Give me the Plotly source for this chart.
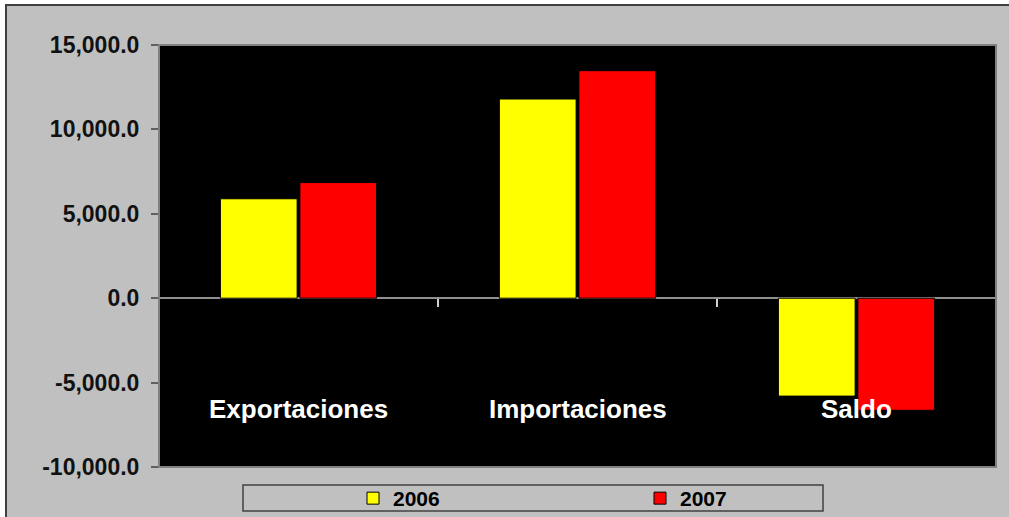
import plotly.graph_objects as go

categories = ["Exportaciones", "Importaciones", "Saldo"]
series_names = ["2006", "2007"]
values_2006 = [5890, 11800, -5800]
values_2007 = [6850, 13480, -6640]
y_ticks = [-10000, -5000, 0, 5000, 10000, 15000]

W, H = 1009, 517
L, R, T, B = 159, 13, 45, 50
pw = W - L - R
ph = H - T - B

def px_x(p):
    return (p - L) / pw

def px_y(p):
    return (H - B - p) / ph

font_family = "Liberation Sans, Arial, sans-serif"

fig = go.Figure()
fig.add_trace(go.Bar(x=categories, y=values_2006, name="<b>%s</b>" % series_names[0],
                     marker=dict(color="#FFFF00", line=dict(color="#000000", width=1))))
fig.add_trace(go.Bar(x=categories, y=values_2007, name="<b>%s</b>" % series_names[1],
                     marker=dict(color="#FF0000", line=dict(color="#000000", width=1))))

shapes = [
    # outer chart area (gray) with dark border
    dict(type="rect", xref="paper", yref="paper",
         x0=px_x(6), x1=px_x(1030), y0=px_y(540), y1=px_y(5),
         fillcolor="#C0C0C0", line=dict(color="#404040", width=2), layer="below"),
    # plot area background
    dict(type="rect", xref="paper", yref="paper", x0=0, x1=1, y0=0, y1=1,
         fillcolor="#000000", line=dict(width=0), layer="below"),
    # plot area border
    dict(type="rect", xref="paper", yref="paper", x0=0, x1=1, y0=0, y1=1,
         line=dict(color="#808080", width=2), layer="above"),
    # legend box
    dict(type="rect", xref="paper", yref="paper",
         x0=px_x(243), x1=px_x(823), y0=px_y(511), y1=px_y(485),
         fillcolor="rgba(0,0,0,0)", line=dict(color="#404040", width=1.5), layer="above"),
]

annotations = [
    dict(x=c, y=-6550, xref="x", yref="y", text="<b>%s</b>" % c, showarrow=False,
         font=dict(family=font_family, size=26, color="#FFFFFF"), yanchor="middle")
    for c in categories
]

fig.update_layout(
    width=W, height=H,
    margin=dict(l=L, r=R, t=T, b=B, autoexpand=False),
    paper_bgcolor="#FFFFFF",
    plot_bgcolor="rgba(0,0,0,0)",
    barmode="group",
    bargap=0.43,
    bargroupgap=0.035,
    shapes=shapes,
    annotations=annotations,
    showlegend=True,
    legend=dict(orientation="h", xref="container", yref="container",
                x=353 / W, y=(H - 478) / H, xanchor="left", yanchor="top",
                bgcolor="rgba(0,0,0,0)", borderwidth=0,
                font=dict(family=font_family, size=21, color="#000000"),
                entrywidth=242, entrywidthmode="pixels",
                traceorder="normal"),
    font=dict(family=font_family, color="#000000"),
)

fig.update_xaxes(
    type="category",
    anchor="free", position=0.4,
    showticklabels=False,
    showline=False, showgrid=False, zeroline=False,
    ticks="outside", tickson="boundaries", ticklen=8, tickwidth=1.5, tickcolor="#D0D0D0",
)
fig.update_yaxes(
    range=[-10000, 15000],
    tickmode="array", tickvals=y_ticks,
    ticktext=["<b>%s</b>" % f"{v:,.1f}" for v in y_ticks],
    tickfont=dict(family=font_family, size=23, color="#111111"),
    showgrid=False,
    zeroline=True, zerolinecolor="#909090", zerolinewidth=2,
    showline=False,
    ticks="outside", ticklen=7, tickwidth=1.5, tickcolor="#606060",
    ticklabelstandoff=7,
)

fig.write_html("out.html", config={"displayModeBar": False},
               post_script="document.body.style.margin='0';document.body.style.overflow='hidden';")
